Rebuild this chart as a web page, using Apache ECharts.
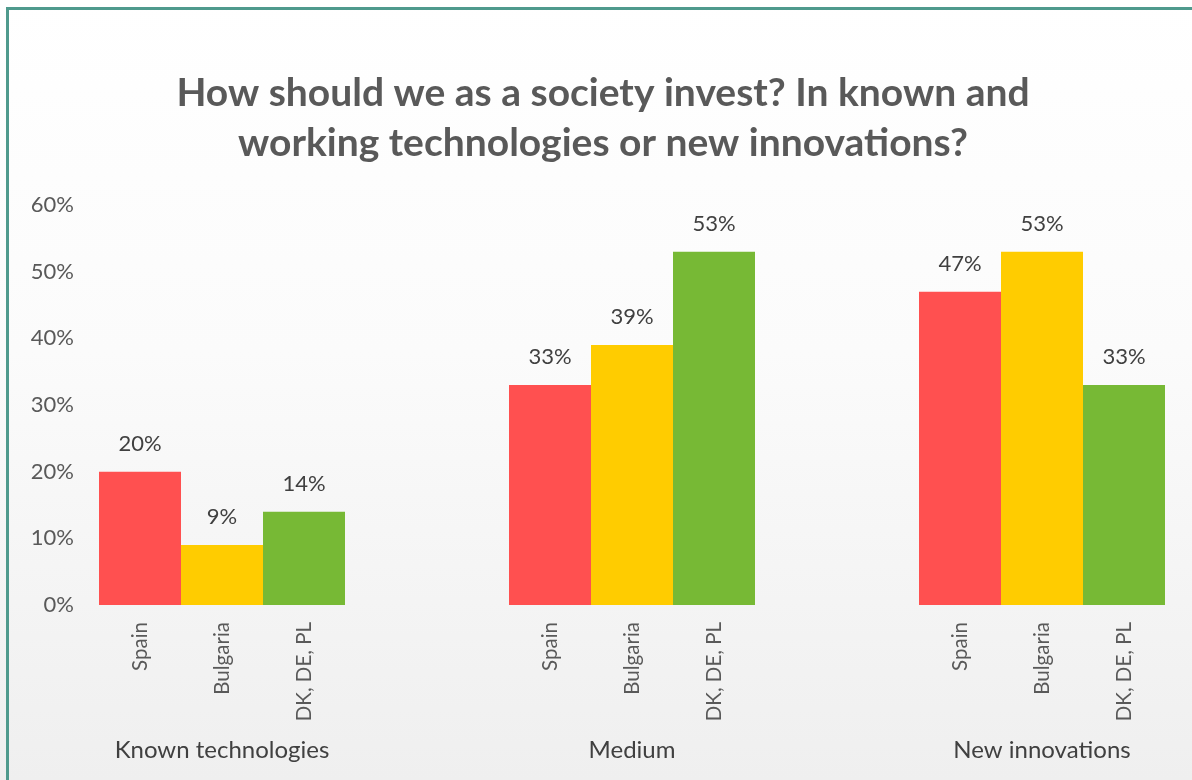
<!DOCTYPE html>
<html>
<head>
<meta charset="utf-8">
<script src="https://cdn.jsdelivr.net/npm/echarts@6/dist/echarts.min.js"></script>
<style>
  html, body { margin: 0; padding: 0; width: 1192px; height: 780px; overflow: hidden; }
  body { background: linear-gradient(to bottom, #ffffff 0%, #fbfbfb 45%, #efefef 100%); }
  #chart { position: absolute; left: 0; top: 0; width: 1192px; height: 780px; }
  #frame { position: absolute; left: 6px; top: 7px; width: 1400px; height: 1000px;
           border: 3px solid #4f9a8d; box-sizing: border-box; pointer-events: none; }
</style>
</head>
<body>
<div id="chart"></div>
<div id="frame"></div>
<script>
// Survey answers by group of respondents
const groups = ['Known technologies', 'Medium', 'New innovations'];
const countries = ['Spain', 'Bulgaria', 'DK, DE, PL'];
const spain = [20, 33, 47];
const bulgaria = [9, 39, 53];
const dkDePl = [14, 53, 33];
const yTicks = [0, 10, 20, 30, 40, 50, 60];

const seriesValues = [spain, bulgaria, dkDePl];
const colors = ['#ff5050', '#ffcc00', '#77b935'];
const FONT = 'Lato, "Open Sans", sans-serif';

// Each group takes three bar slots followed by two empty slots
const SLOTS_PER_GROUP = 5;
const slotCount = groups.length * SLOTS_PER_GROUP - 2;
const countryAxis = [];
const groupAxis = [];
for (let i = 0; i < slotCount; i++) {
  const g = Math.floor(i / SLOTS_PER_GROUP);
  const k = i % SLOTS_PER_GROUP;
  countryAxis.push(k < countries.length ? countries[k] : '');
  groupAxis.push(k === 1 ? groups[g] : '');
}

const series = seriesValues.map((vals, s) => {
  const data = new Array(slotCount).fill(null);
  vals.forEach((v, g) => { data[g * SLOTS_PER_GROUP + s] = v; });
  return {
    name: countries[s],
    type: 'bar',
    data: data,
    barGap: '-100%',
    barCategoryGap: '0%',
    itemStyle: { color: colors[s] },
    label: {
      show: true,
      position: 'top',
      distance: 17,
      formatter: p => p.value + '%',
      color: '#404040',
      fontSize: 22,
      fontFamily: FONT
    }
  };
});

const chart = echarts.init(document.getElementById('chart'), null, { renderer: 'canvas' });
chart.setOption({
  backgroundColor: 'transparent',
  title: {
    text: 'How should we as a society invest? In known and\nworking technologies or new innovations?',
    left: 598,
    textAlign: 'center',
    top: 63,
    textStyle: {
      color: '#595959',
      fontSize: 39,
      fontWeight: 'bold',
      lineHeight: 50,
      fontFamily: FONT
    }
  },
  grid: { left: 99, right: 27, top: 205, bottom: 175, containLabel: false },
  xAxis: [
    {
      type: 'category',
      data: countryAxis,
      position: 'bottom',
      axisLine: { show: false },
      axisTick: { show: false },
      axisLabel: {
        interval: 0,
        rotate: 90,
        margin: 17,
        color: '#595959',
        fontSize: 20.5,
        fontFamily: FONT
      }
    },
    {
      type: 'category',
      data: groupAxis,
      position: 'bottom',
      axisLine: { show: false },
      axisTick: { show: false },
      axisLabel: {
        interval: 0,
        margin: 133,
        color: '#404040',
        fontSize: 24,
        fontFamily: FONT
      }
    }
  ],
  yAxis: {
    type: 'value',
    min: yTicks[0],
    max: yTicks[yTicks.length - 1],
    interval: 10,
    axisLine: { show: false },
    axisTick: { show: false },
    splitLine: { show: false },
    axisLabel: {
      formatter: '{value}%',
      margin: 25,
      color: '#595959',
      fontSize: 22,
      fontFamily: FONT
    }
  },
  series: series
});
</script>
</body>
</html>
